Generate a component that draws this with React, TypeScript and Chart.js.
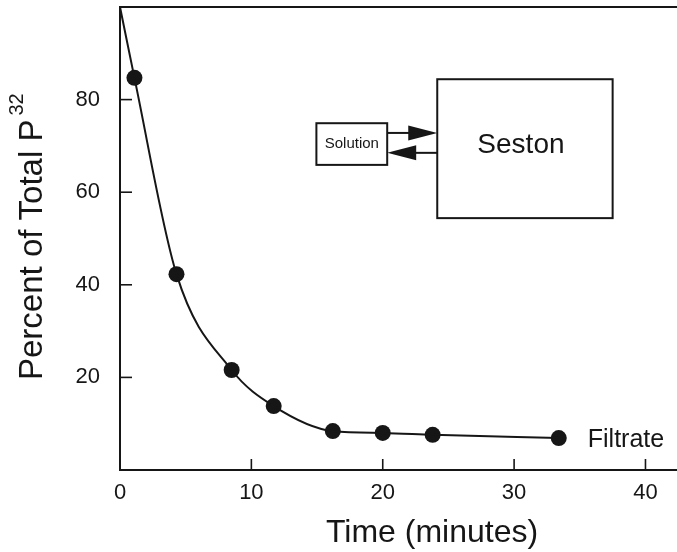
import React, { useEffect, useRef } from "react";
import { Chart, registerables } from "chart.js";

Chart.register(...registerables);

// ---- data ----
const TIME_MIN = [1.1, 4.3, 8.5, 11.7, 16.2, 20.0, 23.8, 33.4];
const PERCENT_P32 = [84.7, 42.3, 21.6, 13.8, 8.4, 8.0, 7.6, 6.9];
const FIT_START_TIME = [0];
const FIT_START_PERCENT = [100];
const X_TICKS = [0, 10, 20, 30, 40];
const Y_TICKS = [20, 40, 60, 80];
const X_TITLE = "Time (minutes)";
const Y_TITLE = "Percent of Total P";
const Y_TITLE_SUP = "32";
const SERIES_LABEL = "Filtrate";
const BOX_SOLUTION_LABEL = "Solution";
const BOX_SESTON_LABEL = "Seston";

// ---- inset diagram (in data units) ----
const SESTON_BOX = { x0: 24.15, x1: 37.5, y0: 54.4, y1: 84.4 };
const SOLUTION_BOX = { x0: 14.95, x1: 20.34, y0: 65.9, y1: 74.9 };
const ARROW_IN_Y = 72.8;
const ARROW_OUT_Y = 68.5;

const FONT = "'Liberation Sans', Arial, Helvetica, sans-serif";
const INK = "#161616";

const zeroPad = (s: any) => {
  s.paddingTop = 0;
  s.paddingBottom = 0;
  s.paddingLeft = 0;
  s.paddingRight = 0;
};

const framePlugin = {
  id: "frame",
  afterDraw(chart: any) {
    const { ctx, chartArea: a, scales } = chart;
    const xs = scales.x;
    const ys = scales.y;
    ctx.save();
    ctx.strokeStyle = INK;
    ctx.fillStyle = INK;
    ctx.lineCap = "butt";

    // top frame line
    ctx.lineWidth = 2;
    ctx.beginPath();
    ctx.moveTo(a.left - 1, a.top);
    ctx.lineTo(a.right, a.top);
    ctx.stroke();

    // inward tick marks
    ctx.lineWidth = 1.6;
    X_TICKS.forEach((v) => {
      const px = xs.getPixelForValue(v);
      ctx.beginPath();
      ctx.moveTo(px, a.bottom);
      ctx.lineTo(px, a.bottom - 11);
      ctx.stroke();
    });
    Y_TICKS.forEach((v) => {
      const py = ys.getPixelForValue(v);
      ctx.beginPath();
      ctx.moveTo(a.left, py);
      ctx.lineTo(a.left + 12, py);
      ctx.stroke();
    });

    // axis titles
    ctx.font = `32px ${FONT}`;
    ctx.textAlign = "center";
    ctx.textBaseline = "alphabetic";
    ctx.fillText(X_TITLE, 432, 542);

    ctx.save();
    ctx.translate(42, 380);
    ctx.rotate(-Math.PI / 2);
    ctx.textAlign = "left";
    ctx.font = `33px ${FONT}`;
    ctx.fillText(Y_TITLE, 0, 0);
    const w = ctx.measureText(Y_TITLE).width;
    ctx.font = `20px ${FONT}`;
    ctx.fillText(Y_TITLE_SUP, w + 4, -19);
    ctx.restore();

    // series label next to last point
    const lastX = xs.getPixelForValue(TIME_MIN[TIME_MIN.length - 1]);
    const lastY = ys.getPixelForValue(PERCENT_P32[PERCENT_P32.length - 1]);
    ctx.font = `25px ${FONT}`;
    ctx.textAlign = "left";
    ctx.fillText(SERIES_LABEL, lastX + 29, lastY + 9);

    // inset diagram
    const rect = (b: any) => {
      const x0 = xs.getPixelForValue(b.x0);
      const x1 = xs.getPixelForValue(b.x1);
      const y0 = ys.getPixelForValue(b.y0);
      const y1 = ys.getPixelForValue(b.y1);
      return { x0, x1, top: Math.min(y0, y1), bottom: Math.max(y0, y1) };
    };
    const sb = rect(SESTON_BOX);
    const so = rect(SOLUTION_BOX);
    ctx.lineWidth = 2;
    ctx.strokeRect(sb.x0, sb.top, sb.x1 - sb.x0, sb.bottom - sb.top);
    ctx.strokeRect(so.x0, so.top, so.x1 - so.x0, so.bottom - so.top);

    ctx.textAlign = "center";
    ctx.textBaseline = "middle";
    ctx.font = `28px ${FONT}`;
    ctx.fillText(BOX_SESTON_LABEL, (sb.x0 + sb.x1) / 2 - 4, (sb.top + sb.bottom) / 2 - 3);
    ctx.font = `15px ${FONT}`;
    ctx.fillText(BOX_SOLUTION_LABEL, (so.x0 + so.x1) / 2, (so.top + so.bottom) / 2);

    const headLen = 29;
    const headHalf = 7.5;
    // arrow into seston
    const yIn = ys.getPixelForValue(ARROW_IN_Y);
    ctx.beginPath();
    ctx.moveTo(so.x1, yIn);
    ctx.lineTo(sb.x0 - headLen + 2, yIn);
    ctx.stroke();
    ctx.beginPath();
    ctx.moveTo(sb.x0, yIn);
    ctx.lineTo(sb.x0 - headLen, yIn - headHalf);
    ctx.lineTo(sb.x0 - headLen, yIn + headHalf);
    ctx.closePath();
    ctx.fill();
    // arrow out to solution
    const yOut = ys.getPixelForValue(ARROW_OUT_Y);
    ctx.beginPath();
    ctx.moveTo(sb.x0, yOut);
    ctx.lineTo(so.x1 + headLen - 2, yOut);
    ctx.stroke();
    ctx.beginPath();
    ctx.moveTo(so.x1, yOut);
    ctx.lineTo(so.x1 + headLen, yOut - headHalf);
    ctx.lineTo(so.x1 + headLen, yOut + headHalf);
    ctx.closePath();
    ctx.fill();

    ctx.restore();
  },
};

export default function App() {
  const ref = useRef<HTMLCanvasElement | null>(null);

  useEffect(() => {
    document.body.style.margin = "0";
    const canvas = ref.current;
    if (!canvas) return;

    const points = TIME_MIN.map((t, i) => ({ x: t, y: PERCENT_P32[i] }));
    const fit = FIT_START_TIME.map((t, i) => ({ x: t, y: FIT_START_PERCENT[i] })).concat(points);

    const chart = new Chart(canvas, {
      type: "scatter",
      data: {
        datasets: [
          {
            label: "fit",
            data: fit,
            showLine: true,
            borderColor: INK,
            borderWidth: 2,
            pointRadius: 0,
            cubicInterpolationMode: "monotone",
            fill: false,
            clip: false,
          } as any,
          {
            label: SERIES_LABEL,
            data: points,
            showLine: false,
            pointRadius: 8,
            pointHoverRadius: 8,
            backgroundColor: INK,
            borderColor: INK,
            borderWidth: 0,
          },
        ],
      },
      options: {
        responsive: false,
        animation: false,
        devicePixelRatio: 1,
        layout: { autoPadding: false, padding: { top: 7, right: 0, left: 0, bottom: 0 } },
        plugins: {
          legend: { display: false },
          tooltip: { enabled: false },
        },
        scales: {
          x: {
            type: "linear",
            min: 0,
            max: 42.4,
            afterBuildTicks: (s: any) => {
              s.ticks = X_TICKS.map((v) => ({ value: v }));
            },
            afterFit: (s: any) => {
              s.height = 82;
              zeroPad(s);
            },
            grid: { display: false, drawTicks: false },
            border: { display: true, color: INK, width: 2 },
            ticks: {
              color: INK,
              font: { family: FONT, size: 22 },
              padding: 10,
              maxRotation: 0,
              autoSkip: false,
            },
          },
          y: {
            type: "linear",
            min: 0,
            max: 100,
            afterBuildTicks: (s: any) => {
              s.ticks = Y_TICKS.map((v) => ({ value: v }));
            },
            afterFit: (s: any) => {
              s.width = 120;
              zeroPad(s);
            },
            grid: { display: false, drawTicks: false },
            border: { display: true, color: INK, width: 2 },
            ticks: {
              color: INK,
              font: { family: FONT, size: 22 },
              padding: 20,
              autoSkip: false,
            },
          },
        },
      } as any,
      plugins: [framePlugin],
    });

    return () => chart.destroy();
  }, []);

  return (
    <div style={{ width: 677, height: 552, background: "#fff" }}>
      <canvas ref={ref} width={677} height={552} style={{ display: "block" }} />
    </div>
  );
}
